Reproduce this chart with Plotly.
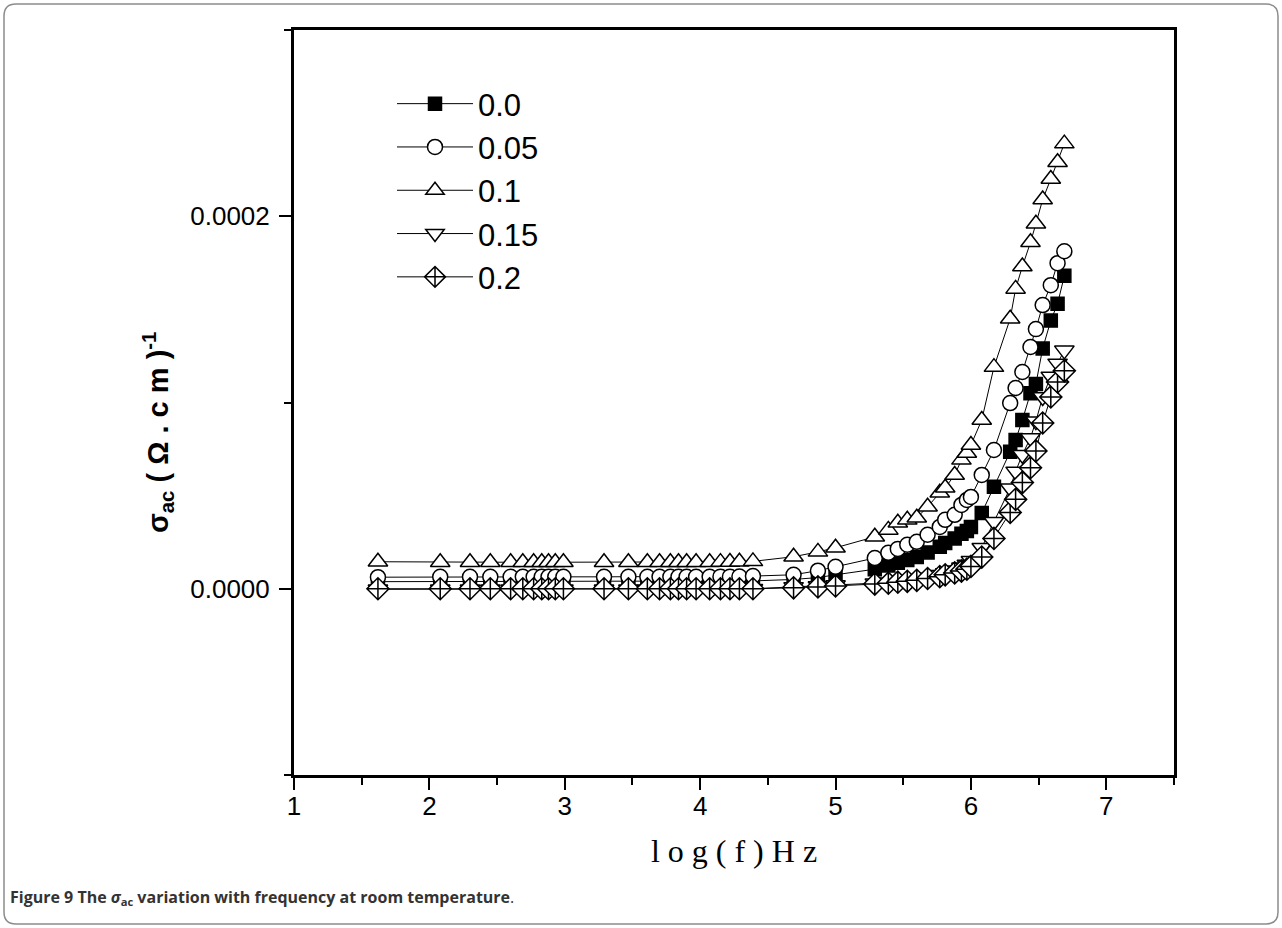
import plotly.graph_objects as go

# log of frequency (same sweep for every composition)
log_f = [1.62, 2.08, 2.30, 2.45, 2.60, 2.69, 2.77, 2.83, 2.88, 2.93, 2.99,
         3.29, 3.47, 3.61, 3.70, 3.78, 3.84, 3.90, 3.97, 4.07, 4.15, 4.22, 4.29, 4.39,
         4.69, 4.87, 5.00,
         5.29, 5.39, 5.46, 5.53, 5.60, 5.68, 5.77, 5.81, 5.88, 5.93, 5.97, 6.00,
         6.08, 6.17, 6.29, 6.33, 6.38, 6.44, 6.48, 6.53, 6.59, 6.64, 6.69]

sig_00 = [3.8e-06, 3.8e-06, 3.8e-06, 3.8e-06, 3.8e-06, 3.8e-06, 3.8e-06, 3.8e-06, 3.8e-06, 3.8e-06, 3.8e-06,
          3.8e-06, 3.8e-06, 3.8e-06, 3.8e-06, 3.8e-06, 3.8e-06, 3.8e-06, 3.8e-06, 3.8e-06, 3.9e-06, 4.0e-06, 4.1e-06, 4.2e-06,
          5.0e-06, 6.0e-06, 7.5e-06,
          1.05e-05, 1.25e-05, 1.40e-05, 1.55e-05, 1.70e-05, 1.95e-05, 2.25e-05, 2.45e-05, 2.70e-05, 2.95e-05, 3.10e-05, 3.32e-05,
          4.07e-05, 5.47e-05, 7.35e-05, 7.99e-05, 9.06e-05, 1.05e-04, 1.10e-04, 1.29e-04, 1.44e-04, 1.53e-04, 1.68e-04]

sig_005 = [6.2e-06, 6.4e-06, 6.4e-06, 6.4e-06, 6.4e-06, 6.4e-06, 6.4e-06, 6.4e-06, 6.4e-06, 6.4e-06, 6.4e-06,
           6.4e-06, 6.4e-06, 6.4e-06, 6.4e-06, 6.4e-06, 6.4e-06, 6.4e-06, 6.4e-06, 6.4e-06, 6.5e-06, 6.5e-06, 6.6e-06, 6.8e-06,
           7.5e-06, 9.7e-06, 1.18e-05,
           1.65e-05, 1.93e-05, 2.14e-05, 2.36e-05, 2.52e-05, 2.90e-05, 3.32e-05, 3.70e-05, 3.97e-05, 4.50e-05, 4.77e-05, 4.93e-05,
           6.11e-05, 7.45e-05, 9.97e-05, 1.078e-04, 1.164e-04, 1.298e-04, 1.394e-04, 1.523e-04, 1.630e-04, 1.748e-04, 1.812e-04]

sig_01 = [1.45e-05, 1.42e-05, 1.42e-05, 1.42e-05, 1.42e-05, 1.42e-05, 1.42e-05, 1.42e-05, 1.42e-05, 1.42e-05, 1.42e-05,
          1.42e-05, 1.42e-05, 1.42e-05, 1.42e-05, 1.42e-05, 1.42e-05, 1.42e-05, 1.42e-05, 1.42e-05, 1.43e-05, 1.44e-05, 1.45e-05, 1.47e-05,
          1.72e-05, 1.98e-05, 2.20e-05,
          2.79e-05, 3.16e-05, 3.54e-05, 3.70e-05, 3.81e-05, 4.40e-05, 5.15e-05, 5.42e-05, 6.11e-05, 6.92e-05, 7.29e-05, 7.72e-05,
          9.06e-05, 1.19e-04, 1.45e-04, 1.61e-04, 1.73e-04, 1.86e-04, 1.96e-04, 2.09e-04, 2.20e-04, 2.29e-04, 2.39e-04]

sig_015 = [-3e-07, -3e-07, -3e-07, -3e-07, -3e-07, -3e-07, -3e-07, -3e-07, -3e-07, -3e-07, -3e-07,
           -3e-07, -3e-07, -3e-07, -3e-07, -3e-07, -3e-07, -3e-07, -3e-07, -2e-07, -2e-07, -1e-07, 0.0, 0.0,
           1.0e-06, 1.5e-06, 2.0e-06,
           3.0e-06, 3.5e-06, 4.0e-06, 4.5e-06, 5.0e-06, 6.0e-06, 7.5e-06, 8.5e-06, 1.0e-05, 1.15e-05, 1.3e-05, 1.5e-05,
           2.2e-05, 3.6e-05, 5.4e-05, 6.3e-05, 7.2e-05, 8.1e-05, 9.0e-05, 1.03e-04, 1.14e-04, 1.21e-04, 1.28e-04]

sig_02 = [0.0, 0.0, 0.0, 0.0, 0.0, 0.0, 0.0, 0.0, 0.0, 0.0, 0.0,
          0.0, 0.0, 0.0, 0.0, 0.0, 0.0, 0.0, 0.0, 0.0, 0.0, 0.0, 0.0, 0.0,
          5e-07, 1.0e-06, 1.5e-06,
          2.5e-06, 3.0e-06, 3.5e-06, 4.0e-06, 4.5e-06, 5.5e-06, 6.5e-06, 7.5e-06, 8.5e-06, 9.5e-06, 1.05e-05, 1.2e-05,
          1.7e-05, 2.7e-05, 4.1e-05, 4.8e-05, 5.7e-05, 6.5e-05, 7.4e-05, 8.9e-05, 1.03e-04, 1.11e-04, 1.17e-04]

names = ["0.0", "0.05", "0.1", "0.15", "0.2"]
series = [sig_00, sig_005, sig_01, sig_015, sig_02]
symbols = ["square", "circle", "triangle-up", "triangle-down", "diamond-cross"]
fills = ["black", "white", "white", "white", "white"]
sizes = [13, 15, 17, 17, 17]

# plot area in pixels, used to place the caption, titles and frame
PL, PT, PW, PH = 294, 30, 880, 745


def px_x(p):
    return (p - PL) / PW


def px_y(p):
    return 1 - (p - PT) / PH


fig = go.Figure()
for name, ys, sym, fill, sz in zip(names, series, symbols, fills, sizes):
    fig.add_trace(go.Scatter(
        x=log_f, y=ys, name=name, mode="lines+markers",
        line=dict(color="black", width=1),
        marker=dict(symbol=sym, size=sz, color=fill,
                    line=dict(color="black", width=1.5)),
    ))

# rounded frame round the whole figure
r = 12
x0, y0, x1, y1 = 4, 4, 1278, 924
frame = ("M {a},{b} L {c},{b} Q {d},{b} {d},{e} L {d},{f} Q {d},{g} {c},{g} "
         "L {a},{g} Q {h},{g} {h},{f} L {h},{e} Q {h},{b} {a},{b} Z").format(
    a=px_x(x0 + r), b=px_y(y0), c=px_x(x1 - r), d=px_x(x1), e=px_y(y0 + r),
    f=px_y(y1 - r), g=px_y(y1), h=px_x(x0))

nb = "\u00a0"
ytitle = "<b>σ<sub>ac</sub>" + nb + "(" + nb + "Ω" + nb + "." + nb + "c" + nb + "m" + nb + ")<sup>-1</sup></b>"

fig.update_layout(
    width=1282, height=928,
    margin=dict(l=PL, r=1282 - PL - PW, t=PT, b=928 - PT - PH),
    paper_bgcolor="white", plot_bgcolor="white",
    font=dict(family="Liberation Sans, Arial", color="black"),
    showlegend=True,
    legend=dict(x=px_x(392), y=px_y(77), xanchor="left", yanchor="top",
                bgcolor="rgba(0,0,0,0)", font=dict(size=31),
                itemwidth=76, tracegroupgap=0),
    shapes=[dict(type="path", path=frame, xref="paper", yref="paper",
                 line=dict(color="#8c8c8c", width=1.5), layer="below")],
    annotations=[
        dict(text=ytitle, xref="paper", yref="paper", x=px_x(158), y=px_y(433),
             xanchor="center", yanchor="middle", textangle=-90, showarrow=False,
             font=dict(size=29, color="black")),
        dict(text="<b>Figure 9</b> <b>The <i>σ</i><sub>ac</sub> variation with frequency at room temperature</b>.",
             xref="paper", yref="paper", x=px_x(8), y=px_y(897),
             xanchor="left", yanchor="middle", showarrow=False,
             font=dict(family="Open Sans", size=16, color="#333333")),
    ],
)

fig.update_xaxes(
    range=[1, 7.5], dtick=1, tick0=1,
    showline=True, linewidth=3, linecolor="black", mirror=True,
    ticks="outside", ticklen=12, tickwidth=2, tickcolor="black",
    minor=dict(dtick=0.5, ticks="outside", ticklen=7, tickwidth=2, tickcolor="black"),
    showgrid=False, zeroline=False,
    tickfont=dict(size=26), ticklabelstandoff=-6,
    title=dict(text="l o g ( f ) H z", standoff=20,
               font=dict(family="Liberation Serif", size=32)),
)

fig.update_yaxes(
    range=[-0.0001, 0.0003], dtick=0.0002, tick0=0, tickformat=".4f",
    showline=True, linewidth=3, linecolor="black", mirror=True,
    ticks="outside", ticklen=12, tickwidth=2, tickcolor="black",
    minor=dict(dtick=0.0001, ticks="outside", ticklen=7, tickwidth=2, tickcolor="black"),
    showgrid=False, zeroline=False,
    tickfont=dict(size=26), ticklabelstandoff=4,
)

fig.write_html("out.html", config={"displayModeBar": False},
               post_script="document.body.style.margin='0px';")
